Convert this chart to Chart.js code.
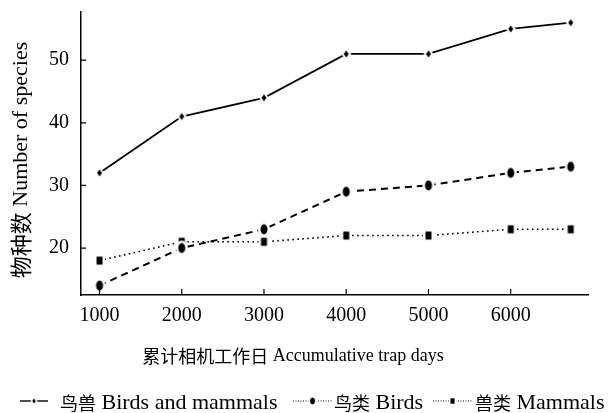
<!DOCTYPE html>
<html>
<head>
<meta charset="utf-8">
<script src="https://cdn.jsdelivr.net/npm/chart.js@4.4.1/dist/chart.umd.min.js"></script>
<style>
  html, body { margin: 0; padding: 0; background: #fff; }
  #wrap { width: 616px; height: 413px; }
</style>
</head>
<body>
<div id="wrap"><canvas id="speciesChart" width="616" height="413"></canvas></div>
<script>
// data
const trapDays = [1000, 2000, 3000, 4000, 5000, 6000, 6730];
const birdsAndMammals = [32, 41, 44, 51, 51, 55, 56];
const birds = [14, 20, 23, 29, 30, 32, 33];
const mammals = [18, 21, 21, 22, 22, 23, 23];
const xTicks = [1000, 2000, 3000, 4000, 5000, 6000];
const yTicks = [20, 30, 40, 50];
const seriesNames = ['鸟兽 Birds and mammals', '鸟类 Birds', '兽类 Mammals'];
const xTitle = '累计相机工作日 Accumulative trap days';
const yTitle = '物种数 Number of species';

const FONT = "'Liberation Serif', 'Times New Roman', 'Noto Sans CJK SC', serif";
const CJK_FONT = "'Noto Sans CJK SC', sans-serif";

// small marker images with a white halo so the line stops short of the marker
function makeMarker(shape, w, h) {
    const halo = 2.5;
    const c = document.createElement('canvas');
    c.width = Math.ceil(w + halo * 2 + 2);
    c.height = Math.ceil(h + halo * 2 + 2);
    const g = c.getContext('2d');
    const cx = c.width / 2, cy = c.height / 2;
    function shapePath(ww, hh) {
        g.beginPath();
        if (shape === 'diamond') {
            g.moveTo(cx, cy - hh / 2);
            g.lineTo(cx + ww / 2, cy);
            g.lineTo(cx, cy + hh / 2);
            g.lineTo(cx - ww / 2, cy);
            g.closePath();
        } else if (shape === 'ellipse') {
            g.ellipse(cx, cy, ww / 2, hh / 2, 0, 0, Math.PI * 2);
        } else {
            g.rect(cx - ww / 2, cy - hh / 2, ww, hh);
        }
    }
    g.fillStyle = '#fff';
    shapePath(w + halo * 2, h + halo * 2);
    g.fill();
    g.fillStyle = '#000';
    shapePath(w, h);
    g.fill();
    return c;
}

const diamondMark = makeMarker('diamond', 5, 7);
const ellipseMark = makeMarker('ellipse', 7, 10);
const squareMark = makeMarker('rect', 6, 8);

const innerTicks = {
    id: 'innerTicks',
    afterDraw(chart) {
        const { ctx, chartArea: a, scales: { x, y } } = chart;
        ctx.save();
        ctx.strokeStyle = '#000';
        ctx.lineWidth = 1.2;
        ctx.beginPath();
        xTicks.forEach(v => {
            const px = x.getPixelForValue(v);
            ctx.moveTo(px, a.bottom);
            ctx.lineTo(px, a.bottom - 6);
        });
        yTicks.forEach(v => {
            const py = y.getPixelForValue(v);
            ctx.moveTo(a.left, py);
            ctx.lineTo(a.left + 5, py);
        });
        ctx.stroke();
        ctx.restore();
    }
};

// chinese part and latin part of a label are set in different sizes
function mixedText(ctx, str, x, y, cjkSize, latinSize, align) {
    const cut = str.indexOf(' ');
    const head = str.slice(0, cut);
    const tail = str.slice(cut);
    ctx.font = cjkSize + 'px ' + CJK_FONT;
    const w1 = ctx.measureText(head).width;
    ctx.font = latinSize + 'px ' + FONT;
    const w2 = ctx.measureText(tail).width;
    let start = x;
    if (align === 'center') start = x - (w1 + w2) / 2;
    ctx.textAlign = 'left';
    ctx.font = cjkSize + 'px ' + CJK_FONT;
    ctx.fillText(head, start, y);
    ctx.font = latinSize + 'px ' + FONT;
    ctx.fillText(tail, start + w1, y);
}

// axis titles + the legend row at the bottom
const legendSpots = [
    { x0: 20, x1: 48, text: 60 },
    { x0: 293, x1: 332, text: 334 },
    { x0: 433, x1: 472, text: 475 }
];

const textBits = {
    id: 'textBits',
    afterDraw(chart) {
        const ctx = chart.ctx;
        ctx.save();
        ctx.fillStyle = '#000';
        ctx.textBaseline = 'middle';

        ctx.save();
        ctx.translate(21, 160);
        ctx.rotate(-Math.PI / 2);
        mixedText(ctx, yTitle, 0, 0, 22, 22, 'center');
        ctx.restore();

        mixedText(ctx, xTitle, 293, 356, 18, 18, 'center');

        chart.data.datasets.forEach((ds, i) => {
            const s = legendSpots[i];
            const ly = 401;
            ctx.save();
            ctx.strokeStyle = '#000';
            ctx.lineWidth = i === 0 ? 1.4 : 1;
            ctx.setLineDash(i === 0 ? [] : [1, 1.5]);
            ctx.beginPath();
            ctx.moveTo(s.x0, ly);
            ctx.lineTo(s.x1, ly);
            ctx.stroke();
            ctx.restore();
            const m = ds.pointStyle;
            const mx = (s.x0 + s.x1) / 2;
            ctx.drawImage(m, mx - m.width * 0.35, ly - m.height * 0.35, m.width * 0.7, m.height * 0.7);
            mixedText(ctx, ds.label, s.text, 403, 18, 22, 'left');
        });
        ctx.restore();
    }
};

const ctx = document.getElementById('speciesChart');
new Chart(ctx, {
    type: 'line',
    data: {
        datasets: [
            {
                label: seriesNames[0],
                data: trapDays.map((d, i) => ({ x: d, y: birdsAndMammals[i] })),
                borderColor: '#000',
                borderWidth: 1.8,
                pointStyle: diamondMark
            },
            {
                label: seriesNames[1],
                data: trapDays.map((d, i) => ({ x: d, y: birds[i] })),
                borderColor: '#000',
                borderWidth: 2,
                borderDash: [7, 5],
                pointStyle: ellipseMark
            },
            {
                label: seriesNames[2],
                data: trapDays.map((d, i) => ({ x: d, y: mammals[i] })),
                borderColor: '#000',
                borderWidth: 1.6,
                borderDash: [1.6, 3.4],
                pointStyle: squareMark
            }
        ]
    },
    options: {
        responsive: false,
        animation: false,
        layout: { padding: { top: 12, right: 28, left: 0, bottom: 0 } },
        elements: { line: { tension: 0, fill: false } },
        plugins: { legend: { display: false }, tooltip: { enabled: false } },
        scales: {
            x: {
                type: 'linear',
                min: 775,
                max: 6940,
                afterBuildTicks: s => { s.ticks = xTicks.map(v => ({ value: v })); },
                afterFit: s => { s.height = 118; },
                grid: { display: false, drawTicks: false },
                border: { display: true, color: '#000', width: 1.5 },
                ticks: {
                    color: '#000',
                    font: { family: FONT, size: 20 },
                    padding: 9,
                    maxRotation: 0,
                    callback: v => String(v)
                }
            },
            y: {
                min: 12.5,
                max: 57.7,
                afterBuildTicks: s => { s.ticks = yTicks.map(v => ({ value: v })); },
                afterFit: s => { s.width = 81; s.paddingTop = 0; s.paddingBottom = 0; },
                grid: { display: false, drawTicks: false },
                border: { display: true, color: '#000', width: 1.5 },
                ticks: {
                    color: '#000',
                    font: { family: FONT, size: 20 },
                    padding: 12,
                    callback: v => String(v)
                }
            }
        }
    },
    plugins: [innerTicks, textBits]
});
</script>
</body>
</html>
